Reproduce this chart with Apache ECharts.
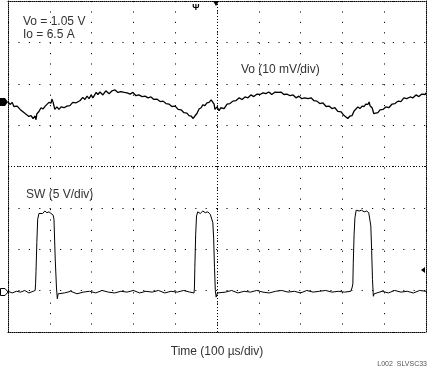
<!DOCTYPE html>
<html>
<head>
<meta charset="utf-8">
<script src="https://cdn.jsdelivr.net/npm/echarts@6/dist/echarts.min.js"></script>
<style>
html,body{margin:0;padding:0;background:#fff;}
#chart{width:428px;height:366px;}
</style>
</head>
<body>
<div id="chart"></div>
<script>
// ---- Data (time in µs, Vo ripple in mV, SW in V) ----
var voT = [0,5,10,14,22,29,33,41,45,50,55,60,65,67,69,74,79,84,89,93,98,103,105,108,112,117,122,127,134,141,148,155,163,167,172,179,184,189,194,199,203,211,215,220,227,234,242,249,256,263,270,278,285,292,299,306,313,321,328,335,342,349,356,364,371,378,385,392,400,407,414,421,428,433,438,443,447,452,457,462,466,471,476,481,486,490,493,495,500,505,509,517,524,531,538,545,553,560,567,574,581,588,596,603,610,617,624,631,639,646,653,660,667,675,682,689,696,703,710,718,725,732,739,746,753,761,768,775,782,789,797,804,808,813,818,823,828,832,837,842,847,852,856,861,864,866,871,875,880,885,890,897,904,911,919,926,933,940,947,954,962,969,976,983,990,998,1000];
var voMv = [0.2,-0.4,0.1,-0.9,-0.8,-1.6,-1.5,-2.6,-2.4,-3.3,-3.1,-3.8,-3.2,-4.1,-2.7,-2.1,-1.2,-1.5,-0.8,-0.7,0.1,-0.1,0.9,0.1,-1.6,-1.0,-1.6,-1.0,-1.2,-0.8,-0.7,0.1,0,0.3,0.5,1.3,0.8,1.6,1.0,1.9,1.2,2.5,2.0,2.6,1.9,2.9,2.2,2.9,3.1,2.5,2.7,2.5,2.4,2.1,2.5,1.7,1.9,1.5,1.6,1.2,1.4,0.8,0.9,0.3,0.4,-0.2,-0.3,-0.9,-0.8,-1.6,-1.7,-2.4,-2.5,-3.1,-3.2,-3.8,-3.2,-2.6,-1.5,-1.2,-0.5,-0.7,0,0.1,0.7,0.4,-0.3,-1.6,-1.0,-1.9,-1.2,-1.4,-0.3,-0.2,0.4,0.5,1.2,0.8,1.4,1.2,1.9,1.5,2.1,2.0,2.4,2.2,2.6,2.0,2.6,2.5,2.6,2.0,2.1,1.7,1.9,1.2,1.6,1.0,1.2,1.0,1.2,0.5,0.4,-0.2,0,-0.9,-0.8,-1.4,-1.2,-2.1,-2.2,-3.1,-3.2,-3.8,-3.2,-3.1,-2.0,-1.9,-1.0,-1.4,-0.8,-0.9,-0.3,-0.4,0.2,-0.7,-1.2,-2.6,-2.5,-2.4,-1.7,-1.6,-1.0,-1.2,-0.3,-0.2,0.4,0.3,1.2,1.0,1.4,1.2,1.9,1.5,2.1,2.0,2.4];

var swT = [0,10,20,30,40,50,60,65,66,67,69,71,74,78,83,88,93,98,103,106,108,110,113,116,118,120,123,135,150,165,180,195,210,225,240,255,270,285,300,315,330,345,360,375,390,405,420,435,445,446,447,449,451,454,460,466,472,478,484,488,490,492,494,496,498,501,505,520,535,550,565,580,595,610,625,640,655,670,685,700,715,730,745,760,775,790,805,820,823,825,826,828,830,833,836,840,846,852,858,863,866,868,870,872,874,876,880,895,910,925,940,955,970,985,1000];
var swV = [0.1,-0.1,0.1,0,0.2,-0.1,0.1,0.2,1.0,2.5,6.0,8.8,9.5,9.7,9.5,9.8,9.6,9.7,9.5,9.4,9.3,8.8,4.0,0.5,-0.8,-0.2,0,-0.1,0.1,-0.2,0,0.1,-0.1,0.2,0,-0.1,0.1,0,0.2,-0.1,0.1,0,0.2,-0.1,0.1,0,0.2,0,-0.1,0.5,3.0,7.0,9.2,9.7,9.5,9.8,9.6,9.7,9.4,9.3,8.4,6.5,3.0,0.2,-0.6,-0.1,0.1,0,0.2,-0.1,0.1,0,0.2,0,-0.1,0.1,0.2,0,0.1,-0.1,0.2,0,0.1,0.2,0,0.1,0,0.1,0.5,1.0,3.5,7.0,9.0,9.9,10.1,9.8,9.9,9.7,9.8,9.6,9.5,8.0,5.0,1.5,-0.5,-0.2,0,0.1,-0.1,0.2,0,0.1,-0.1,0.2,0.1];

var xLabel = 'Time (100 µs/div)';
var noteLines = ['Vo = 1.05 V', 'Io = 6.5 A'];
var voLabel = 'Vo (10 mV/div)';
var swLabel = 'SW (5 V/div)';
var footer = 'L002  SLVSC33';

function zip(a, b) { return a.map(function (v, i) { return [v, b[i]]; }); }

var chart = echarts.init(document.getElementById('chart'), null, { renderer: 'canvas' });
var font = '"Liberation Sans", Arial, sans-serif';
var border = { show: true, onZero: false, lineStyle: { color: '#000', width: 1, type: [1, 1] } };
var gridLine = { show: true, lineStyle: { color: '#111', width: 1, type: [1.2, 9.2] } };

chart.setOption({
  animation: false,
  backgroundColor: '#fff',
  grid: { left: 8, right: 2, top: 1, bottom: 34, containLabel: false },
  xAxis: [
    { type: 'value', min: 0, max: 1000, interval: 100, position: 'bottom',
      axisLine: border, axisTick: { show: false }, axisLabel: { show: false },
      splitLine: gridLine,
      name: xLabel, nameLocation: 'middle', nameGap: 14,
      nameTextStyle: { fontSize: 12, color: '#333', fontFamily: font } },
    { type: 'value', min: 0, max: 1000, position: 'top',
      axisLine: border, axisTick: { show: false }, axisLabel: { show: false }, splitLine: { show: false } }
  ],
  yAxis: [
    { type: 'value', min: -4, max: 4, interval: 1, position: 'left',
      axisLine: border, axisTick: { show: false }, axisLabel: { show: false }, splitLine: gridLine },
    { type: 'value', min: -4, max: 4, interval: 1, position: 'right',
      axisLine: border, axisTick: { show: false }, axisLabel: { show: false }, splitLine: { show: false } },
    { type: 'value', min: -55.4, max: 24.6, show: false },
    { type: 'value', min: -4.82, max: 35.18, show: false }
  ],
  series: [
    { type: 'line', xAxisIndex: 0, yAxisIndex: 0, data: [[500, 0]], symbol: 'none',
      lineStyle: { width: 0 }, silent: true,
      markLine: { silent: true, symbol: 'none', label: { show: false },
        lineStyle: { color: '#000', width: 1, type: [1, 2] },
        data: [{ xAxis: 500 }, { yAxis: 0 }] } },
    { name: 'Vo', type: 'line', xAxisIndex: 0, yAxisIndex: 2, data: zip(voT, voMv),
      showSymbol: false, symbol: 'none', lineStyle: { color: '#000', width: 1.3 } },
    { name: 'SW', type: 'line', xAxisIndex: 0, yAxisIndex: 3, data: zip(swT, swV),
      showSymbol: false, symbol: 'none', lineStyle: { color: '#000', width: 1 } }
  ],
  graphic: [
    { type: 'text', x: 23, y: 22, style: { text: noteLines[0], font: '12px ' + font, fill: '#333', textVerticalAlign: 'middle' } },
    { type: 'text', x: 23, y: 35, style: { text: noteLines[1], font: '12px ' + font, fill: '#333', textVerticalAlign: 'middle' } },
    { type: 'text', x: 241, y: 70, style: { text: voLabel, font: '12px ' + font, fill: '#333', textVerticalAlign: 'middle' } },
    { type: 'text', x: 26, y: 195, style: { text: swLabel, font: '12px ' + font, fill: '#333', textVerticalAlign: 'middle' } },
    { type: 'text', x: 427, y: 364, style: { text: footer, font: '7px ' + font, fill: '#555', textAlign: 'right', textVerticalAlign: 'middle' } },
    { type: 'polygon', shape: { points: [[0, 98], [5, 98], [8, 102], [5, 106], [0, 106]] }, style: { fill: '#000' } },
    { type: 'polygon', shape: { points: [[0.5, 288.5], [5, 288.5], [8, 292], [5, 295.5], [0.5, 295.5]] }, style: { fill: '#fff', stroke: '#000', lineWidth: 1 } },
    { type: 'polygon', shape: { points: [[213, 1], [219, 1], [216, 6]] }, style: { fill: '#000' } },
    { type: 'text', x: 196, y: 8, style: { text: 'Ψ', font: 'bold 9px ' + font, fill: '#000', textAlign: 'center', textVerticalAlign: 'middle' } },
    { type: 'polygon', shape: { points: [[421, 270], [425, 267], [425, 273]] }, style: { fill: '#000' } }
  ]
});
</script>
</body>
</html>
